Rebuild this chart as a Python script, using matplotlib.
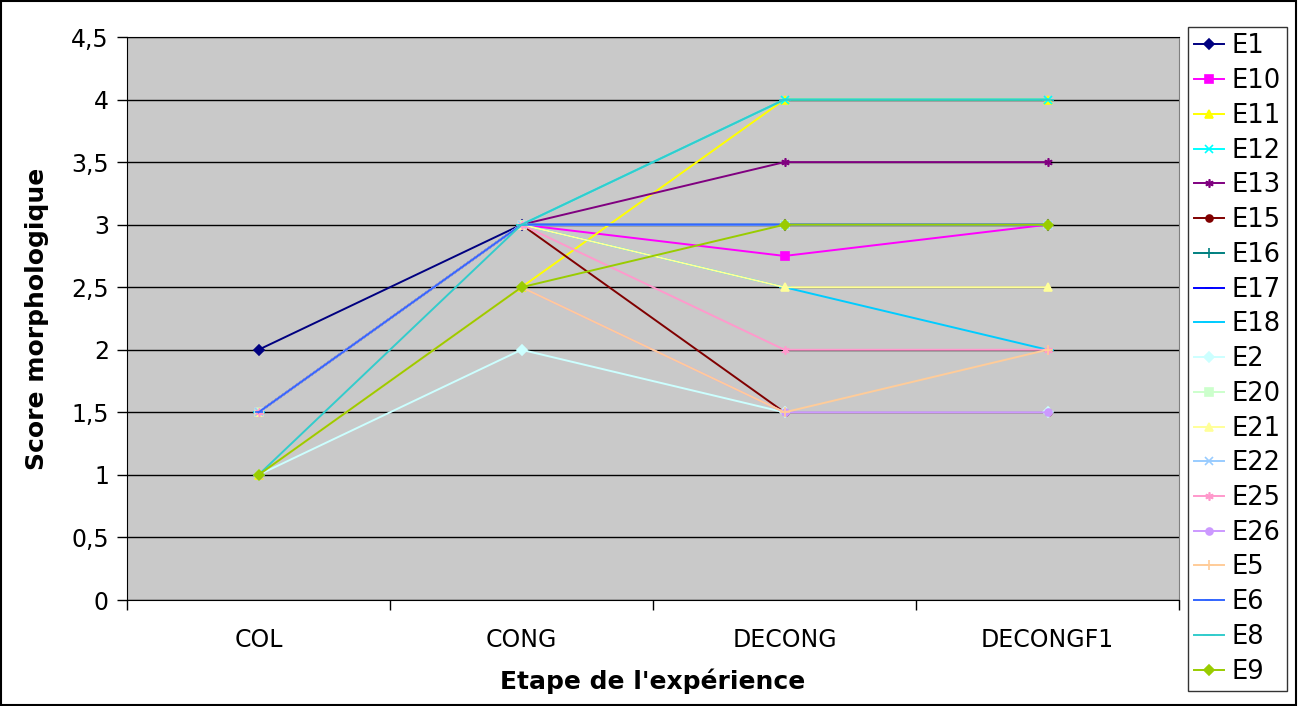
import matplotlib
matplotlib.use("Agg")
import matplotlib.pyplot as plt
from matplotlib.ticker import MultipleLocator, FixedLocator, FuncFormatter
from matplotlib.patches import Rectangle

# --- data ---
stages = ["COL", "CONG", "DECONG", "DECONGF1"]
series_names = ["E1", "E10", "E11", "E12", "E13", "E15", "E16", "E17", "E18",
                "E2", "E20", "E21", "E22", "E25", "E26", "E5", "E6", "E8", "E9"]

E1 = [2, 3, 3, 3]
E10 = [1.5, 3, 2.75, 3]
E11 = [1, 2.5, 4, 4]
E12 = [1.5, 3, 4, 4]
E13 = [1.5, 3, 3.5, 3.5]
E15 = [1.5, 3, 1.5, 1.5]
E16 = [1.5, 3, 3, 3]
E17 = [1.5, 3, 3, 3]
E18 = [1.5, 3, 2.5, 2]
E2 = [1, 2, 1.5, 1.5]
E20 = [1.5, 3, 3, 3]
E21 = [1.5, 3, 2.5, 2.5]
E22 = [1.5, 3, 3, 3]
E25 = [1.5, 3, 2, 2]
E26 = [1, 2.5, 1.5, 1.5]
E5 = [1, 2.5, 1.5, 2]
E6 = [1.5, 3, 3, 3]
E8 = [1, 3, 4, 4]
E9 = [1, 2.5, 3, 3]

values = [E1, E10, E11, E12, E13, E15, E16, E17, E18,
          E2, E20, E21, E22, E25, E26, E5, E6, E8, E9]

# Excel-like series colours and markers
colors = ["#000080", "#FF00FF", "#FFFF00", "#00FFFF", "#800080", "#800000",
          "#008080", "#0000FF", "#00CCFF", "#CCFFFF", "#CCFFCC", "#FFFF99",
          "#99CCFF", "#FF99CC", "#CC99FF", "#FFCC99", "#3366FF", "#33CCCC",
          "#99CC00"]
markers = ["D", "s", "^", "x", (6, 2, 0), "o", "+", "_", "_", "D", "s", "^",
           "x", (6, 2, 0), "o", "+", "_", "_", "D"]
msizes = [5, 6, 6, 6, 6, 5, 7, 6, 8, 5, 6, 6, 6, 6, 5, 7, 6, 8, 5]

plt.rcParams['font.family'] = ['DejaVu Sans']

fig = plt.figure(figsize=(12.99, 7.06), dpi=100)
ax = fig.add_axes([127/1299, 106/706, 1052/1299, 563/706])
ax.set_facecolor("#C9C9C9")

x = list(range(len(stages)))
handles = []
for name, vals, c, m, ms in zip(series_names, values, colors, markers, msizes):
    h, = ax.plot(x, vals, color=c, marker=m, markersize=ms, lw=1.4,
                 markeredgewidth=1.2, label=name, zorder=3)
    handles.append(h)

ax.set_xlim(-0.5, len(stages) - 0.5)
ax.set_ylim(0, 4.5)
ax.yaxis.set_major_locator(MultipleLocator(0.5))
ax.yaxis.set_major_formatter(FuncFormatter(
    lambda v, p: ("%g" % v).replace(".", ",")))
ax.grid(axis="y", color="black", lw=1.0, zorder=1)
ax.set_axisbelow(True)

ax.set_xticks(x)
ax.set_xticklabels(stages)
ax.xaxis.set_minor_locator(FixedLocator([i - 0.5 for i in range(len(stages) + 1)]))
ax.tick_params(axis="x", which="major", length=0, pad=20, labelsize=17)
ax.tick_params(axis="x", which="minor", length=7, width=1, direction="out")
ax.tick_params(axis="y", length=7, width=1, direction="out", pad=6, labelsize=17)

ax.spines["right"].set_color("#808080")
for s in ["left", "bottom", "top"]:
    ax.spines[s].set_color("black")

ax.set_xlabel("Etape de l'expérience", fontsize=18, fontweight="bold", labelpad=12)
ax.set_ylabel("Score morphologique", fontsize=18, fontweight="bold", labelpad=16)

leg = fig.legend(handles=handles, loc="upper left",
                 bbox_to_anchor=(1188/1299, 1 - 27/706), fontsize=18.5,
                 frameon=True, fancybox=False, edgecolor="black",
                 handlelength=1.15, handletextpad=0.3, labelspacing=0.34,
                 borderpad=0.25, borderaxespad=0)
leg.get_frame().set_linewidth(1.0)

# outer chart border
fig.patches.append(Rectangle((0.001, 0.002), 0.997, 0.996, transform=fig.transFigure,
                             fill=False, edgecolor="black", lw=1.5))

fig.savefig("out.png", dpi=100)
